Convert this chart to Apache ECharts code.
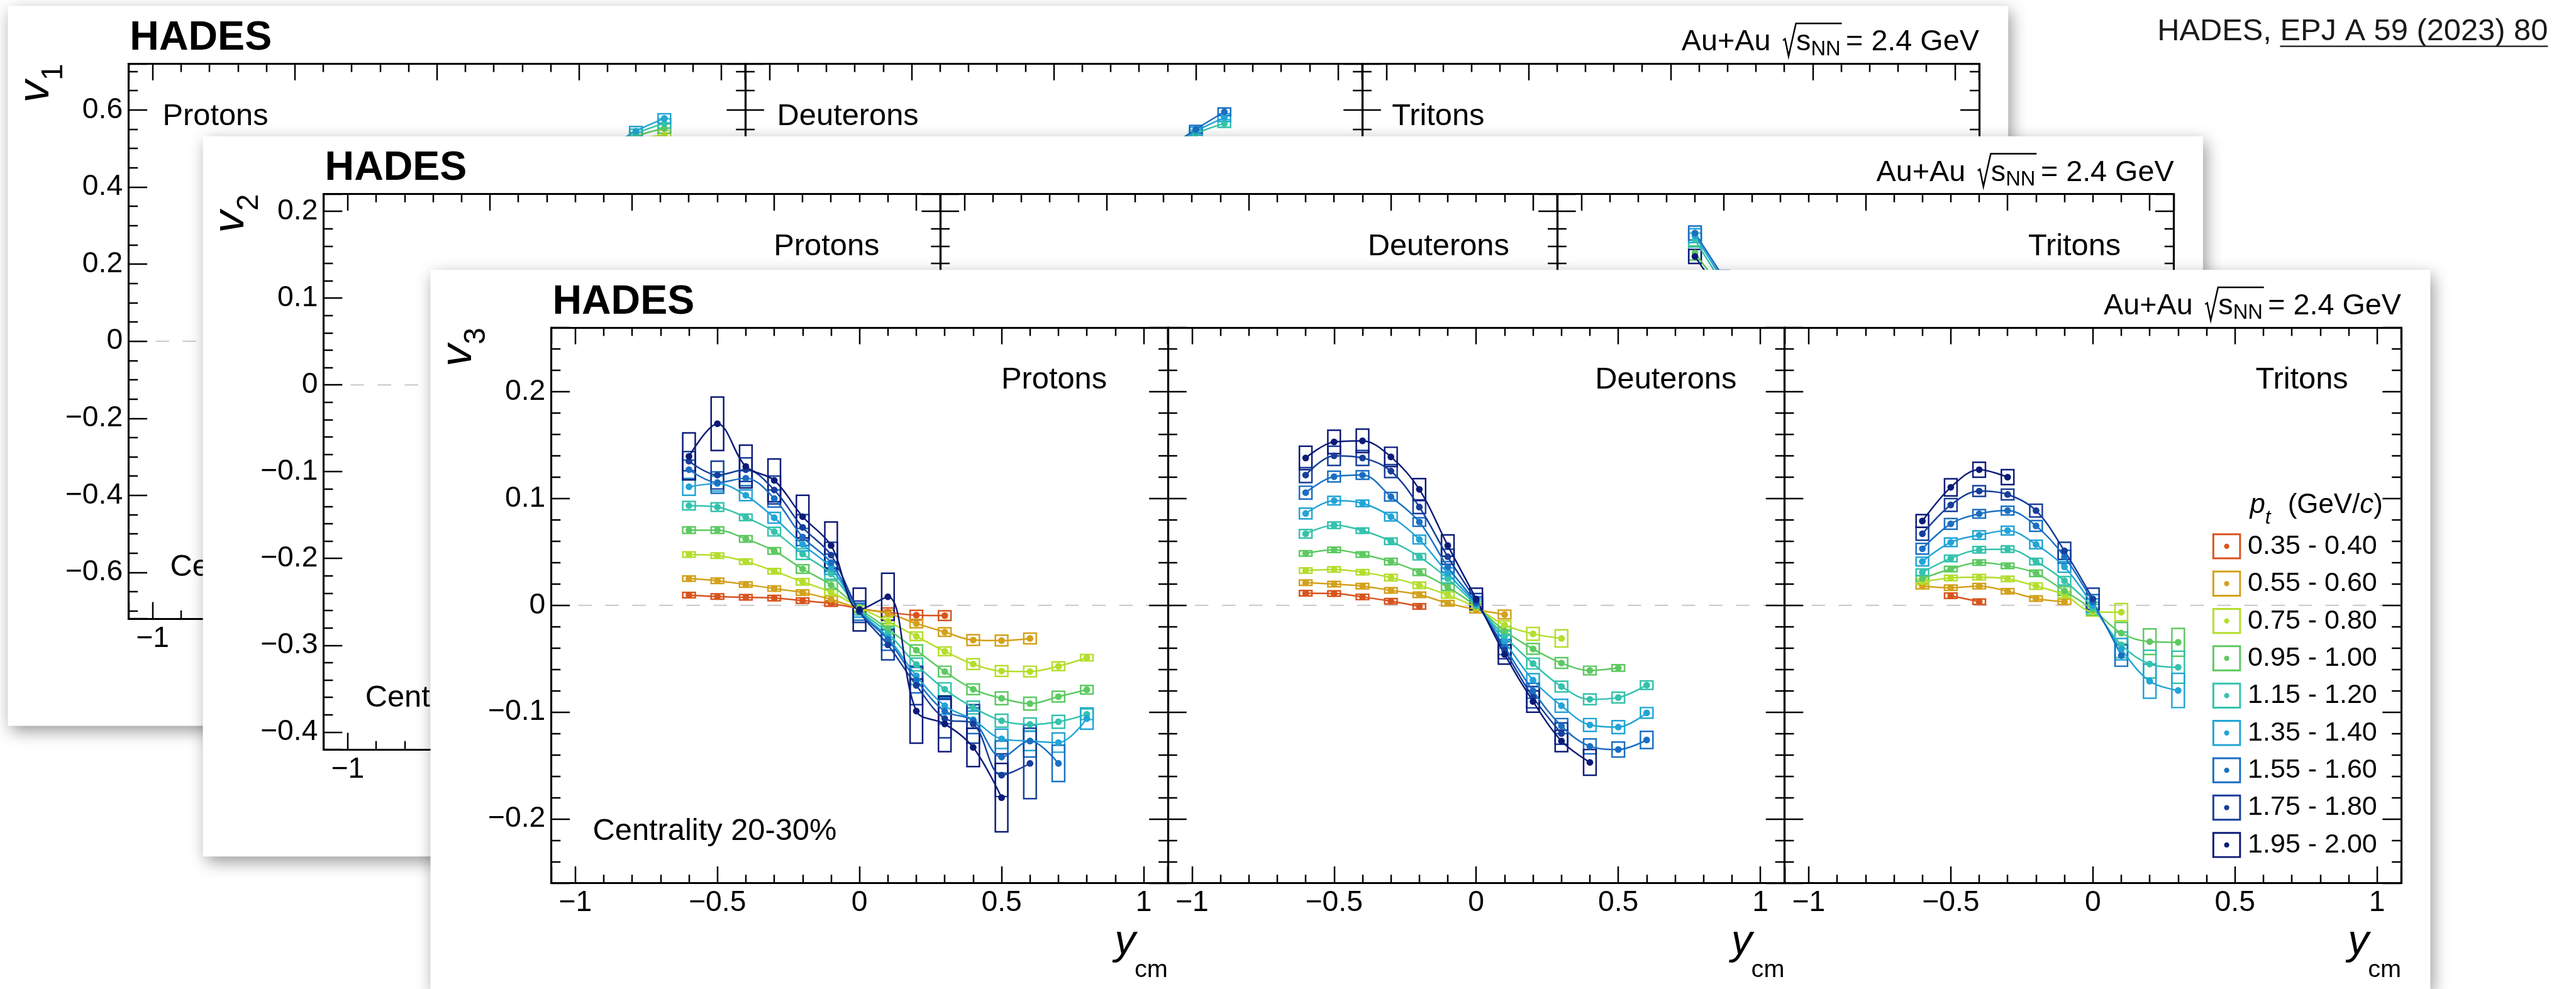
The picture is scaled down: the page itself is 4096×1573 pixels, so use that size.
<!DOCTYPE html>
<html><head><meta charset="utf-8">
<script src="https://cdn.jsdelivr.net/npm/echarts@6/dist/echarts.min.js"></script>
<style>html,body{margin:0;padding:0;background:#fff;overflow:hidden}#c{width:4096px;height:1573px}</style>
</head><body><div id="c"></div>
<script>
// ---------------- DATA ----------------
const ptBins = ['0.35 - 0.40','0.55 - 0.60','0.75 - 0.80','0.95 - 1.00','1.15 - 1.20','1.35 - 1.40','1.55 - 1.60','1.75 - 1.80','1.95 - 2.00'];
const ptColors = ['#d9531e','#d3a11b','#b4de2c','#5ec962','#35c2ac','#22a4d6','#1a6fc2','#173e9a','#0d1b78'];

// v3 protons
const protonY = [-0.6,-0.5,-0.4,-0.3,-0.2,-0.1,0,0.1,0.2,0.3,0.4,0.5,0.6,0.7,0.8];
const protonV3 = [
 [0.0096,0.0082,0.0075,0.0068,0.0044,0.0017,-0.003,-0.0065,-0.0092,-0.0096,null,null,null,null,null],
 [0.025,0.023,0.0195,0.0157,0.012,0.0055,-0.003,-0.0075,-0.017,-0.025,-0.0325,-0.033,-0.031,null,null],
 [0.0475,0.0465,0.041,0.032,0.022,0.0123,-0.002,-0.015,-0.029,-0.043,-0.055,-0.0615,-0.062,-0.057,-0.049],
 [0.0704,0.0704,0.0622,0.051,0.034,0.019,-0.003,-0.022,-0.042,-0.062,-0.0786,-0.087,-0.092,-0.0855,-0.079],
 [0.0933,0.092,0.0824,0.069,0.048,0.0294,-0.004,-0.026,-0.0554,-0.0786,-0.0957,-0.108,-0.1115,-0.109,-0.102],
 [0.111,0.114,0.103,0.082,0.057,0.035,-0.005,-0.030,-0.066,-0.094,-0.107,-0.125,-0.127,-0.1285,-0.106],
 [0.127,0.115,0.119,0.100,0.064,0.040,-0.006,-0.032,-0.070,-0.099,-0.108,-0.142,-0.127,-0.148,null],
 [0.135,0.122,0.127,0.108,0.073,0.047,-0.006,-0.037,-0.075,-0.106,-0.111,-0.159,-0.148,null,null],
 [0.1395,0.170,0.130,0.117,0.083,0.056,-0.004,0.008,-0.099,-0.111,-0.133,-0.180,null,null,null]
];
const protonSys = [
 [0.0025,0.0025,0.0025,0.0025,0.0025,0.0025,0.003,0.004,0.0045,0.0045],
 [0.0025,0.0025,0.0025,0.0025,0.0025,0.003,0.003,0.003,0.004,0.004,0.005,0.005,0.005],
 [0.0025,0.0025,0.0025,0.0025,0.003,0.003,0.003,0.004,0.004,0.004,0.005,0.005,0.005,0.004,0.003],
 [0.003,0.003,0.003,0.003,0.004,0.004,0.004,0.005,0.005,0.005,0.005,0.006,0.006,0.005,0.004],
 [0.004,0.004,0.003,0.004,0.005,0.005,0.005,0.006,0.006,0.006,0.006,0.006,0.006,0.006,0.005],
 [0.008,0.007,0.005,0.005,0.006,0.006,0.006,0.007,0.008,0.008,0.008,0.009,0.009,0.009,0.01],
 [0.009,0.01,0.007,0.008,0.008,0.008,0.008,0.01,0.012,0.012,0.012,0.015,0.015,0.017],
 [0.009,0.013,0.011,0.013,0.012,0.012,0.01,0.014,0.018,0.018,0.018,0.02,0.033],
 [0.022,0.025,0.02,0.02,0.02,0.022,0.02,0.022,0.03,0.026,0.018,0.032]
];

// v3 deuterons
const deuteronY = [-0.6,-0.5,-0.4,-0.3,-0.2,-0.1,0,0.1,0.2,0.3,0.4,0.5,0.6];
const deuteronV3 = [
 [0.0113,0.011,0.0079,0.0038,-0.001,null,null,null,null,null,null,null,null],
 [0.0212,0.0199,0.018,0.014,0.0099,0.002,-0.004,-0.0086,null,null,null,null,null],
 [0.0325,0.0336,0.031,0.026,0.0188,0.0096,-0.002,-0.0185,-0.0267,-0.031,null,null,null],
 [0.0486,0.052,0.0476,0.041,0.031,0.017,-0.001,-0.024,-0.0408,-0.054,-0.061,-0.0586,null],
 [0.067,0.075,0.0699,0.060,0.0455,0.025,0,-0.029,-0.0545,-0.076,-0.088,-0.0863,-0.0747],
 [0.086,0.098,0.0955,0.083,0.0616,0.030,0.001,-0.034,-0.07,-0.094,-0.112,-0.114,-0.1007],
 [0.1055,0.1205,0.122,0.1017,0.078,0.036,0.002,-0.039,-0.08,-0.113,-0.132,-0.135,-0.126],
 [0.122,0.14,0.138,0.1257,0.092,0.0455,0.004,-0.042,-0.086,-0.12,null,null,null],
 [0.138,0.153,0.154,0.139,0.1086,0.056,0.006,-0.046,-0.09,-0.127,-0.147,null,null]
];
const deuteronSys = [
 [0.0025,0.0025,0.0025,0.0025,0.0025],
 [0.0025,0.0025,0.0025,0.0025,0.0025,0.0025,0.003,0.004],
 [0.0025,0.0025,0.0025,0.003,0.003,0.003,0.003,0.004,0.006,0.008],
 [0.0025,0.0025,0.0025,0.003,0.003,0.003,0.003,0.004,0.005,0.005,0.004,0.003],
 [0.004,0.003,0.0025,0.003,0.003,0.004,0.004,0.005,0.005,0.005,0.005,0.005,0.004],
 [0.005,0.004,0.003,0.004,0.004,0.005,0.005,0.006,0.006,0.006,0.006,0.006,0.005],
 [0.006,0.005,0.004,0.004,0.004,0.005,0.006,0.007,0.007,0.007,0.007,0.007,0.008],
 [0.007,0.009,0.007,0.006,0.006,0.007,0.007,0.008,0.01,0.01],
 [0.011,0.011,0.011,0.009,0.01,0.01,0.01,0.009,0.01,0.01,0.012]
];

// v3 tritons
const tritonY = [-0.6,-0.5,-0.4,-0.3,-0.2,-0.1,0,0.1,0.2,0.3];
const tritonV3 = [
 [null,0.009,0.0034,null,null,null,null,null,null,null],
 [0.018,0.0165,0.018,0.0132,0.0064,0.0034,null,null,null,null],
 [0.022,0.0256,0.0263,0.0248,0.018,0.0098,-0.006,-0.0064,null,null],
 [0.025,0.034,0.040,0.037,0.030,0.0135,-0.004,-0.026,-0.034,-0.0346],
 [0.031,0.044,0.052,0.0526,0.041,0.023,-0.002,-0.037,-0.055,-0.058],
 [0.041,0.059,0.0658,0.070,0.057,0.036,0.0,-0.041,-0.071,-0.0797],
 [0.053,0.0763,0.0857,0.0887,0.0744,0.0455,0.003,-0.047,null,null],
 [0.067,0.094,0.107,0.1038,0.0887,0.051,0.006,null,null,null],
 [0.079,0.1105,0.127,0.12,null,null,null,null,null,null]
];
const tritonSys = [
 [0.0025,0.0025],
 [0.0025,0.0025,0.0025,0.0025,0.0025,0.0025],
 [0.0025,0.0025,0.0025,0.0025,0.003,0.003,0.004,0.008],
 [0.0025,0.0025,0.0025,0.0025,0.003,0.004,0.005,0.01,0.012,0.013],
 [0.003,0.003,0.003,0.003,0.003,0.004,0.005,0.012,0.013,0.015],
 [0.004,0.004,0.004,0.004,0.004,0.005,0.006,0.01,0.016,0.016],
 [0.005,0.005,0.004,0.004,0.005,0.006,0.007,0.01],
 [0.006,0.006,0.005,0.005,0.006,0.008,0.01],
 [0.006,0.008,0.007,0.007]
];

// visible fragments of the v1 / v2 cards behind
const protonV1Y = [0.6,0.7,0.8];
const protonV1Bins = [2,3,4,5];
const protonV1 = [[0.47,0.52,0.535],[0.48,0.53,0.552],[0.49,0.538,0.565],[0.5,0.545,0.578]];
const protonV1Sys = [[0.012,0.012,0.012],[0.012,0.012,0.012],[0.012,0.012,0.012],[0.012,0.012,0.012]];
const deuteronV1Y = [0.4,0.5,0.6];
const deuteronV1Bins = [4,5,6];
const deuteronV1 = [[0.49,0.538,0.565],[0.5,0.545,0.58],[0.5,0.55,0.595]];
const deuteronV1Sys = [[0.01,0.01,0.01],[0.01,0.01,0.01],[0.01,0.01,0.01]];
const tritonV2Y = [-0.6,-0.5];
const tritonV2Bins = [3,4,5,6,8];
const tritonV2 = [[0.152,0.108],[0.167,0.115],[0.172,0.12],[0.175,0.124],[0.148,0.1]];
const tritonV2Sys = [[0.008,0.008],[0.008,0.008],[0.008,0.008],[0.008,0.008],[0.008,0.008]];

const xRange = [-1.085, 1.085];
const v1Range = [-0.72, 0.72];
const v2Range = [-0.42, 0.22];
const v3Range = [-0.26, 0.26];
const particleNames = ['Protons','Deuterons','Tritons'];

// ---------------- LAYOUT ----------------
const S = 4096 / 4952;
const FONT = '"Liberation Sans", Arial, Helvetica, sans-serif';
const BOX_W = 0.044;

const mctx = document.createElement('canvas').getContext('2d');
function tw(text, size, weight, style) {
  mctx.font = (style || 'normal') + ' ' + (weight || 'normal') + ' ' + size + 'px ' + FONT;
  return mctx.measureText(text).width;
}
function T(text, x, baseline, size, o) {
  o = o || {};
  const align = o.align || 'left';
  return {type:'text', z:o.z, silent:true, x:x*S, y:(baseline - 0.35*size)*S,
    style:{text:text, font:(o.style||'normal')+' '+(o.weight||'normal')+' '+(size*S)+'px '+FONT,
      fill:o.color||'#000', align:align, textAlign:align, verticalAlign:'middle', textVerticalAlign:'middle'}};
}
function fmtStep(step) {
  return function(v) {
    const q = v / step;
    if (Math.abs(q - Math.round(q)) > 1e-6) return '';
    const r = Math.round(v * 1000) / 1000;
    if (Math.abs(r) < 1e-9) return '0';
    return (r < 0 ? '\u2212' : '') + String(Math.abs(r));
  };
}

const cards = [
  {L:247, T:122.5, R:3804.5, B:1189.7, n:'1', range:v1Range, step:0.2, minor:4, nameSide:'left',
   panels:[{x:protonV1Y, bins:protonV1Bins, vals:protonV1, sys:protonV1Sys},
           {x:deuteronV1Y, bins:deuteronV1Bins, vals:deuteronV1, sys:deuteronV1Sys}, null]},
  {L:622, T:373, R:4179, B:1441, n:'2', range:v2Range, step:0.1, minor:5, nameSide:'right',
   panels:[null, null, {x:tritonV2Y, bins:tritonV2Bins, vals:tritonV2, sys:tritonV2Sys}]},
  {L:1059.5, T:630, R:4616, B:1698, n:'3', range:v3Range, step:0.1, minor:5, nameSide:'right',
   panels:[{x:protonY, bins:[0,1,2,3,4,5,6,7,8], vals:protonV3, sys:protonSys},
           {x:deuteronY, bins:[0,1,2,3,4,5,6,7,8], vals:deuteronV3, sys:deuteronSys},
           {x:tritonY, bins:[0,1,2,3,4,5,6,7,8], vals:tritonV3, sys:tritonSys}]}
];
const nameOffLeft = [65.5, 61, 57];
const nameOffRight = [117, 92, 102];

const grids = [], xAxes = [], yAxes = [], series = [], graphics = [];

function boxRender(params, api) {
  const x = api.value(0), y = api.value(1), s = api.value(2), b = api.value(3);
  const p1 = api.coord([x - BOX_W/2, y + s]);
  const p2 = api.coord([x + BOX_W/2, y - s]);
  return {type:'rect', shape:{x:p1[0], y:p1[1], width:p2[0]-p1[0], height:p2[1]-p1[1]},
          style:{fill:'none', stroke:ptColors[b], lineWidth:3*S}};
}

function axisCommon(zb) {
  return {
    axisLine:{show:true, onZero:false, lineStyle:{color:'#000', width:3.8*S}},
    splitLine:{show:false}, minorSplitLine:{show:false}, z:zb+3, silent:true
  };
}

cards.forEach(function(c, ci) {
  const zb = ci * 10;
  const W = (c.R - c.L) / 3;
  // card background
  graphics.push({type:'rect', z:zb+1, silent:true,
    shape:{x:(c.L-232)*S, y:(c.T-111)*S, width:(c.R-c.L+288)*S, height:(c.B-c.T+317)*S},
    style:{fill:'#fff', shadowBlur:30*S, shadowColor:'rgba(0,0,0,0.42)', shadowOffsetX:6*S, shadowOffsetY:10*S}});

  for (let k = 0; k < 3; k++) {
    const gi = ci*3 + k;
    const pl = c.L + k*W, pr = c.L + (k+1)*W;
    grids.push({left:pl*S, top:c.T*S, width:W*S, height:(c.B-c.T)*S, containLabel:false, outerBoundsMode:'none', z:zb});
    const xb = Object.assign(axisCommon(zb), {type:'value', gridIndex:gi, position:'bottom', min:xRange[0], max:xRange[1],
      splitNumber:5, minInterval:0.5, maxInterval:0.5,
      axisTick:{show:true, inside:true, length:32*S, lineStyle:{color:'#000', width:3*S}},
      minorTick:{show:true, splitNumber:5, length:16*S, lineStyle:{color:'#000', width:3*S}},
      axisLabel:{show:true, margin:11*S, fontSize:56*S, fontFamily:FONT, color:'#000', formatter:fmtStep(0.5), showMinLabel:false, showMaxLabel:false}});
    const xt = Object.assign(axisCommon(zb), {type:'value', gridIndex:gi, position:'top', min:xRange[0], max:xRange[1],
      splitNumber:5, minInterval:0.5, maxInterval:0.5,
      axisTick:{show:true, inside:true, length:32*S, lineStyle:{color:'#000', width:3*S}},
      minorTick:{show:true, splitNumber:5, length:16*S, lineStyle:{color:'#000', width:3*S}},
      axisLabel:{show:false}});
    xAxes.push(xb, xt);
    const yl = Object.assign(axisCommon(zb), {type:'value', gridIndex:gi, position:'left', min:c.range[0], max:c.range[1],
      splitNumber:5, minInterval:c.step, maxInterval:c.step,
      axisTick:{show:true, inside:true, length:36*S, lineStyle:{color:'#000', width:3*S}},
      minorTick:{show:true, splitNumber:c.minor, length:18*S, lineStyle:{color:'#000', width:3*S}},
      axisLabel:{show:k===0, margin:11*S, fontSize:56*S, fontFamily:FONT, color:'#000', formatter:fmtStep(c.step), showMinLabel:false, showMaxLabel:false}});
    const yr = Object.assign(axisCommon(zb), {type:'value', gridIndex:gi, position:'right', min:c.range[0], max:c.range[1],
      splitNumber:5, minInterval:c.step, maxInterval:c.step,
      axisTick:{show:true, inside:true, length:36*S, lineStyle:{color:'#000', width:3*S}},
      minorTick:{show:true, splitNumber:c.minor, length:18*S, lineStyle:{color:'#000', width:3*S}},
      axisLabel:{show:false}});
    yAxes.push(yl, yr);

    // dashed zero line
    series.push({type:'line', xAxisIndex:2*gi, yAxisIndex:2*gi, data:[[xRange[0],0],[xRange[1],0]], symbol:'none', silent:true,
      lineStyle:{color:'#c8c8c8', width:2.4*S, type:[26*S,26*S]}, z:zb+2, animation:false});

    const p = c.panels[k];
    if (p) {
      const boxData = [];
      p.bins.forEach(function(b, i) {
        let n = 0;
        p.x.forEach(function(x, j) {
          const y = p.vals[i][j];
          if (y === null || y === undefined) return;
          let s = p.sys[i][n++];
          if (s === undefined) s = 0.003;
          boxData.push([x, y, s, b]);
        });
      });
      series.push({type:'custom', xAxisIndex:2*gi, yAxisIndex:2*gi, data:boxData, renderItem:boxRender,
        encode:{x:0, y:1}, silent:true, z:zb+4, animation:false});
      p.bins.forEach(function(b, i) {
        const d = p.x.map(function(x, j){ return [x, p.vals[i][j]]; }).filter(function(q){ return q[1] !== null && q[1] !== undefined; });
        series.push({type:'line', name:ptBins[b], xAxisIndex:2*gi, yAxisIndex:2*gi, data:d, smooth:0.35,
          symbol:'circle', symbolSize:13*S, showSymbol:true, silent:true,
          lineStyle:{color:ptColors[b], width:3*S}, itemStyle:{color:ptColors[b], borderWidth:0},
          emphasis:{disabled:true}, z:zb+5, animation:false});
      });
    }

    // particle name
    if (c.nameSide === 'left') graphics.push(T(particleNames[k], pl + nameOffLeft[k], c.T + 122.5, 59, {z:zb+6}));
    else graphics.push(T(particleNames[k], pr - nameOffRight[k], c.T + 122, 59, {z:zb+6, align:'right'}));

    // y_cm label
    const wc = tw('cm', 48);
    graphics.push(T('cm', pr - wc, c.B + 184, 48, {z:zb+6}));
    graphics.push(T('y', pr - wc - tw('y', 81, 'normal', 'italic') + 2, c.B + 142, 81, {z:zb+6, style:'italic'}));
  }

  // HADES title
  graphics.push(T('HADES', c.L + 2.5, c.T - 21, 78, {z:zb+6, weight:'bold'}));

  // Au+Au sqrt(sNN) = 2.4 GeV
  (function() {
    const F = 56.5, by = c.T - 21, z = zb+6;
    const wEq = tw('= 2.4 GeV', F);
    const xEq = c.R - wEq;
    graphics.push(T('= 2.4 GeV', xEq, by, F, {z:z}));
    const Fs = 0.7 * F;
    const xNNend = xEq - 0.18*F;
    const xNN = xNNend - tw('NN', Fs);
    graphics.push(T('NN', xNN, by + 0.13*F, Fs, {z:z}));
    const xs = xNN - tw('s', F);
    graphics.push(T('s', xs, by, F, {z:z}));
    const xr = xs - 0.45*F;
    const pts = [[xr, by-0.42*F],[xr+0.07*F, by-0.47*F],[xr+0.19*F, by+0.12*F],[xr+0.44*F, by-1.0*F],[xNNend+0.04*F, by-1.0*F]];
    graphics.push({type:'polyline', z:z, silent:true, shape:{points:pts.map(function(q){return [q[0]*S, q[1]*S];})},
      style:{stroke:'#000', lineWidth:3*S, fill:null}});
    graphics.push(T('Au+Au', xr - 0.42*F - tw('Au+Au', F), by, F, {z:z}));
  })();

  // v_n axis title (rotated)
  (function() {
    const Fv = 86, Fs = 58, z = zb+6;
    const ws = tw(c.n, Fs);
    graphics.push({type:'group', x:(c.L-147.5)*S, y:c.T*S, rotation:Math.PI/2, z:z, silent:true, children:[
      {type:'text', z:z, x:-ws*S, y:(-0.35*Fv)*S, style:{text:'v', font:'italic normal '+(Fv*S)+'px '+FONT, fill:'#000',
        align:'right', textAlign:'right', verticalAlign:'middle', textVerticalAlign:'middle'}},
      {type:'text', z:z, x:0, y:(25-0.35*Fs)*S, style:{text:c.n, font:'normal normal '+(Fs*S)+'px '+FONT, fill:'#000',
        align:'right', textAlign:'right', verticalAlign:'middle', textVerticalAlign:'middle'}}
    ]});
  })();

  // centrality
  graphics.push(T('Centrality 20-30%', c.L + 80, c.B - 78, 59, {z:zb+6}));
});

// legend title p_t (GeV/c)
(function() {
  const F = 53, Fs = 38, by = 990, z = 36;
  let x = 4325;
  graphics.push(T('p', x, by, F, {z:z, style:'italic'}));
  x += tw('p', F, 'normal', 'italic');
  graphics.push(T('t', x, by + 20, Fs, {z:z, style:'italic'}));
  x = 4398;
  graphics.push(T('(GeV/', x, by, F, {z:z}));
  x += tw('(GeV/', F);
  graphics.push(T('c', x, by, F, {z:z, style:'italic'}));
  x += tw('c', F, 'normal', 'italic');
  graphics.push(T(')', x, by, F, {z:z}));
})();

// citation
(function() {
  const F = 59, by = 82, right = 4898, z = 40;
  const full = 'HADES, EPJ A 59 (2023) 80';
  const x0 = right - tw(full, F);
  graphics.push(T(full, x0, by, F, {z:z, color:'#1a1a1a'}));
  const xu = x0 + tw('HADES, ', F);
  graphics.push({type:'line', z:z, silent:true, shape:{x1:xu*S, y1:89*S, x2:right*S, y2:89*S}, style:{stroke:'#1a1a1a', lineWidth:2.6*S}});
})();

const chart = echarts.init(document.getElementById('c'), null, {renderer:'canvas'});
chart.setOption({
  animation:false,
  backgroundColor:'#ffffff',
  textStyle:{fontFamily:FONT},
  grid:grids, xAxis:xAxes, yAxis:yAxes, series:series,
  legend:{orient:'vertical', left:4253*S, top:1024.5*S, itemWidth:55*S, itemHeight:50*S, itemGap:19.8*S,
    icon:'path://M0,0H55V50H0Z M3.6,3.6V46.4H51.4V3.6Z M22.5,25a5,5 0 1,0 10,0a5,5 0 1,0 -10,0Z',
    itemStyle:{borderWidth:0}, selectedMode:false, z:35, padding:0,
    textStyle:{fontSize:52*S, fontFamily:FONT, color:'#000', lineHeight:50*S, padding:[0,0,0,7*S]},
    data:ptBins},
  graphic:{elements:graphics}
});
</script></body></html>
